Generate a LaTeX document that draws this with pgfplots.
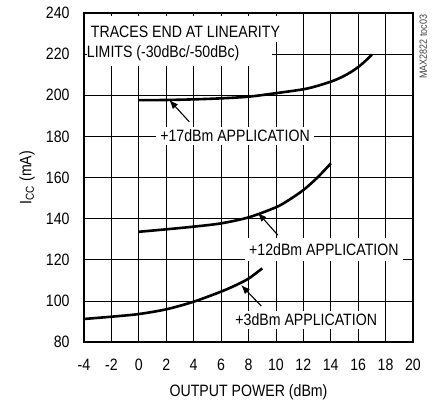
\documentclass[border=0pt]{standalone}
\usepackage{fontspec}
\setmainfont{Liberation Sans}[FakeStretch=0.86]
\usepackage{pgfplots}
\pgfplotsset{compat=1.18}
\usetikzlibrary{arrows.meta}

\begin{document}
\begin{tikzpicture}[font=\fontsize{16.5}{19}\selectfont]
\useasboundingbox (-84bp,-63bp) rectangle (355bp,342bp);
\begin{axis}[
    at={(0,0)}, anchor=south west,
    scale only axis, width=329bp, height=329bp,
    xmin=-4, xmax=20, ymin=80, ymax=240,
    xtick={-4,-2,...,20}, ytick={80,100,...,240},
    xticklabels={-4,-2,0,2,4,6,8,10,12,14,16,18,20},
    yticklabels={80,100,120,140,160,180,200,220,240},
    grid=major,
    major grid style={black, line width=0.7bp},
    major tick length=0pt,
    axis line style={line width=2.6bp},
    x tick label style={yshift=-14bp},
    y tick label style={xshift=-11bp},
    xlabel={OUTPUT POWER (dBm)},
    ylabel={I\textsubscript{CC} (mA)},
    xlabel style={at={(axis description cs:0.5,-0.154)}, anchor=center},
    ylabel style={at={(axis description cs:-0.173,0.5)}, anchor=center},
]
% +17dBm
\addplot[black, line width=2.6bp, smooth, line join=round] coordinates {
    (0,197.6) (2,197.7) (4,198.0) (6,198.5) (8,199.3) (10,201.0)
    (12,202.9) (13,204.5) (14,206.6) (14.5,207.9) (15,209.5) (15.5,211.4)
    (16,213.7) (16.5,216.5) (17,219.8)};
% +12dBm
\addplot[black, line width=2.6bp, smooth, line join=round] coordinates {
    (0,133.6) (2,134.8) (4,136.1) (6,137.7) (8,140.6) (10,145.5)
    (11,149.3) (12,153.9) (13,159.8) (14,166.8)};
% +3dBm
\addplot[black, line width=2.6bp, smooth, line join=round] coordinates {
    (-4,91.2) (-2,92.3) (0,93.6) (2,95.9) (4,99.6) (6,104.5)
    (7,107.4) (8,110.8) (9,115.8)};

% note box, top left
\fill[white] (axis cs:-3.6,238.6) rectangle (axis cs:10.3,225.9);
\fill[white] (axis cs:-3.8,225.9) rectangle (axis cs:9.7,214.2);
\node[anchor=base west, inner sep=0pt] at (axis cs:-3.51,228.2) {TRACES END AT LINEARITY};
\node[anchor=base west, inner sep=0pt] at (axis cs:-3.8,218.3) {LIMITS (-30dBc/-50dBc)};

% curve labels
\node[anchor=base, fill=white, inner xsep=4.5bp, inner ysep=3bp] at (axis cs:7.02,177.4) {+17dBm APPLICATION};
\node[anchor=base, fill=white, inner xsep=4bp, inner ysep=5.5bp] at (axis cs:13.5,122.3) {+12dBm APPLICATION};
\node[anchor=base, fill=white, inner xsep=4bp, inner ysep=2.6bp] at (axis cs:12.21,87.9) {+3dBm APPLICATION};

\draw[-{Latex[length=9bp,width=7bp]}, line width=1.1bp] (axis cs:3.68,187.1) -- (axis cs:2.22,197.7);
\draw[-{Latex[length=9bp,width=7bp]}, line width=1.1bp] (axis cs:10.14,132.0) -- (axis cs:8.68,142.9);
\draw[-{Latex[length=9bp,width=7bp]}, line width=1.1bp] (axis cs:8.93,97.5) -- (axis cs:7.46,107.7);
\end{axis}
\node[rotate=90, inner sep=0pt, text=black!75, font=\fontsize{10.5}{12}\selectfont] at (339.3bp,295.3bp) {MAX2822 toc03};
\end{tikzpicture}
\end{document}
